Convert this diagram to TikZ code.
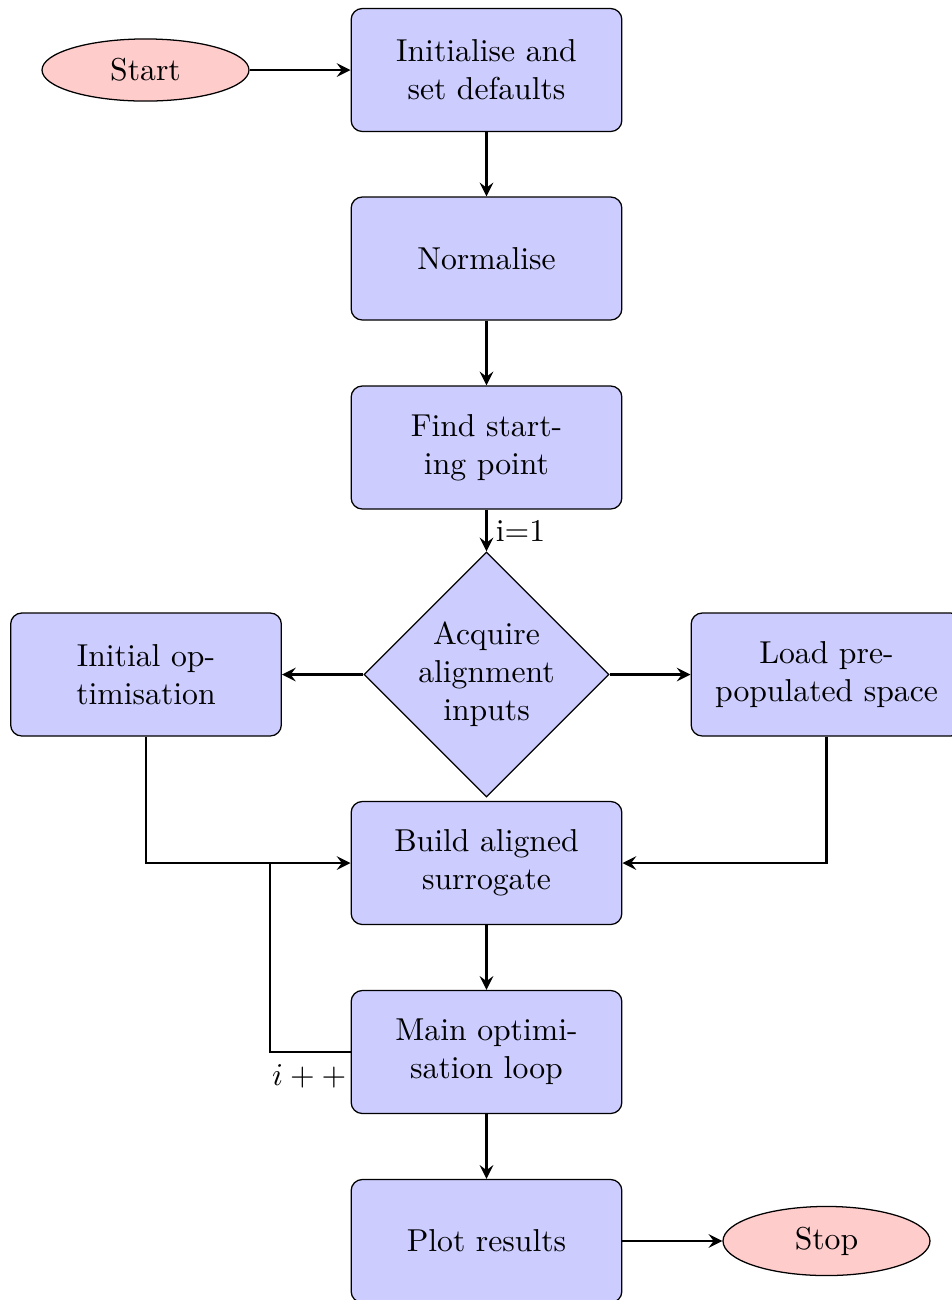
\documentclass[tikz,border=0pt]{standalone}
\usetikzlibrary{shapes.geometric}
\begin{document}
\begin{tikzpicture}[x=0.3155pt,y=-0.3155pt,
  procbox/.style={rectangle, rounded corners=3.5pt, draw=black, fill=blue!20,
    minimum width=85.4pt, minimum height=38.8pt, align=center, inner sep=0pt},
  terminal/.style={ellipse, draw=black, fill=red!20, minimum width=65.3pt,
    minimum height=19.6pt, align=center, inner sep=0pt},
  decision/.style={diamond, draw=black, fill=blue!20, minimum width=77.3pt,
    minimum height=77.3pt, aspect=1, inner sep=0pt, align=center},
  flow/.style={line width=0.9pt, -stealth},
  link/.style={line width=0.9pt}]
\useasboundingbox (0,0) rectangle (951,1300);

% nodes
\node[terminal] (start) at (145.5,70) {Start};
\node[procbox] (init) at (486.5,70) {Initialise and\\set defaults};
\node[procbox] (norm) at (486.5,258.5) {Normalise};
\node[procbox] (find) at (486.5,447.5) {Find start-\\ing point};
\node[decision] (acq) at (486.5,674.5) {Acquire\\alignment\\inputs};
\node[procbox] (iopt) at (146,674.5) {Initial op-\\timisation};
\node[procbox] (load) at (826.5,674.5) {Load pre-\\populated space};
\node[procbox] (build) at (486.5,863) {Build aligned\\surrogate};
\node[procbox] (main) at (486.5,1052) {Main optimi-\\sation loop};
\node[procbox] (plot) at (486.5,1241) {Plot results};
\node[terminal, minimum height=21.8pt] (stop) at (826.5,1241) {Stop};

% connectors
\draw[flow] (start) -- (init);
\draw[flow] (init) -- (norm);
\draw[flow] (norm) -- (find);
\draw[flow] (find) -- node[right, inner sep=2.5pt] (ione) {i=1} (acq);
\draw[flow] (acq) -- (iopt);
\draw[flow] (acq) -- (load);
\draw[flow] (iopt.south) |- (build.west);
\draw[flow] (load.south) |- (build.east);
\draw[flow] (build) -- (main);
\coordinate (loopcorner) at (270,1052);
\coordinate (loopjoin) at (270,863);
\draw[link] (main.west) -- (loopcorner) -- (loopjoin);
\node[anchor=north east, inner sep=0pt] (inc) at (347,1064) {$i++$};
\draw[flow] (main) -- (plot);
\draw[flow] (plot) -- (stop);
\end{tikzpicture}
\end{document}
